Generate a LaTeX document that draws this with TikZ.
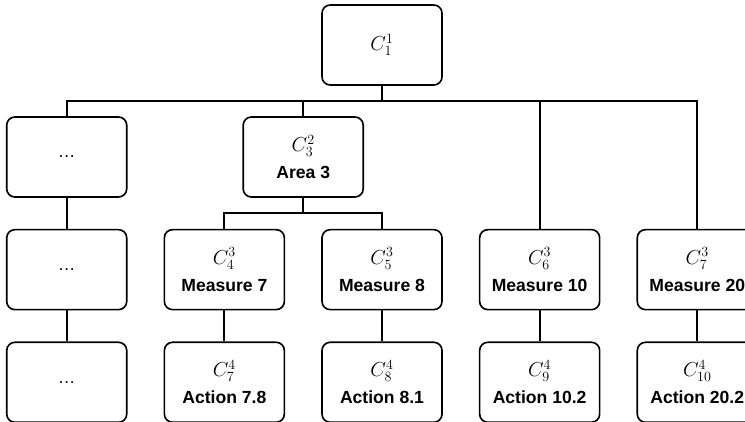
\documentclass[tikz,border=0pt]{standalone}
\usepackage{fontspec}
\setmainfont{Liberation Sans}
\usetikzlibrary{positioning, calc}
\newcommand{\clab}[2]{{\fontsize{18}{20}\selectfont\mdseries$C_{#1}^{#2}$}}

\begin{document}
\begin{tikzpicture}[
          b/.style={draw, line width=1.4pt, rounded corners=7pt, minimum width=3.6cm, minimum height=2.4cm, align=center, font=\fontsize{15}{22}\selectfont\bfseries},
          ln/.style={line width=1.5pt}]
        \clip (0,0) rectangle (22.35,-12.63);
        % top
        \node[b] (c11) at (11.46,-1.35) {\clab{1}{1}};
        % measures
        \node[b, below=4.29cm of c11] (c53) {\clab{5}{3}\\[1pt]Measure 8};
        \node[b, left=1.08cm of c53] (c43) {\clab{4}{3}\\[1pt]Measure 7};
        \node[b, left=1.08cm of c43] (d2) {\mdseries\ldots};
        \node[b, right=1.08cm of c53] (c63) {\clab{6}{3}\\[1pt]Measure 10};
        \node[b, right=1.08cm of c63] (c73) {\clab{7}{3}\\[1pt]Measure 20};
        % areas
        \node[b, above=0.93cm of d2] (d1) {\mdseries\ldots};
        \coordinate (mid) at ($(c43.north)!0.5!(c53.north)$);
        \node[b, above=0.93cm of mid] (c32) {\clab{3}{2}\\[1pt]Area 3};
        % actions
        \node[b, below=0.93cm of d2] (d3) {\mdseries\ldots};
        \node[b, below=0.93cm of c43] (c74) {\clab{7}{4}\\[1pt]Action 7.8};
        \node[b, below=0.93cm of c53] (c84) {\clab{8}{4}\\[1pt]Action 8.1};
        \node[b, below=0.93cm of c63] (c94) {\clab{9}{4}\\[1pt]Action 10.2};
        \node[b, below=0.93cm of c73] (c104) {\clab{10}{4}\\[1pt]Action 20.2};
        % connectors
        \coordinate (bus) at ($(c11.south)+(0,-0.45)$);
        \coordinate (sub) at ($(c32.south)+(0,-0.45)$);
        \draw[ln] (c11) -- (bus);
        \draw[ln] (d1.north) |- (bus) -| (c73.north);
        \draw[ln] (c32.north) -- (c32.north |- bus);
        \draw[ln] (c63.north) -- (c63.north |- bus);
        \draw[ln] (c32) -- (sub);
        \draw[ln] (c43.north) |- (sub) -| (c53.north);
        \draw[ln] (d1) -- (d2);
        \draw[ln] (d2) -- (d3);
        \draw[ln] (c43) -- (c74);
        \draw[ln] (c53) -- (c84);
        \draw[ln] (c63) -- (c94);
        \draw[ln] (c73) -- (c104);
      \end{tikzpicture}
\end{document}
